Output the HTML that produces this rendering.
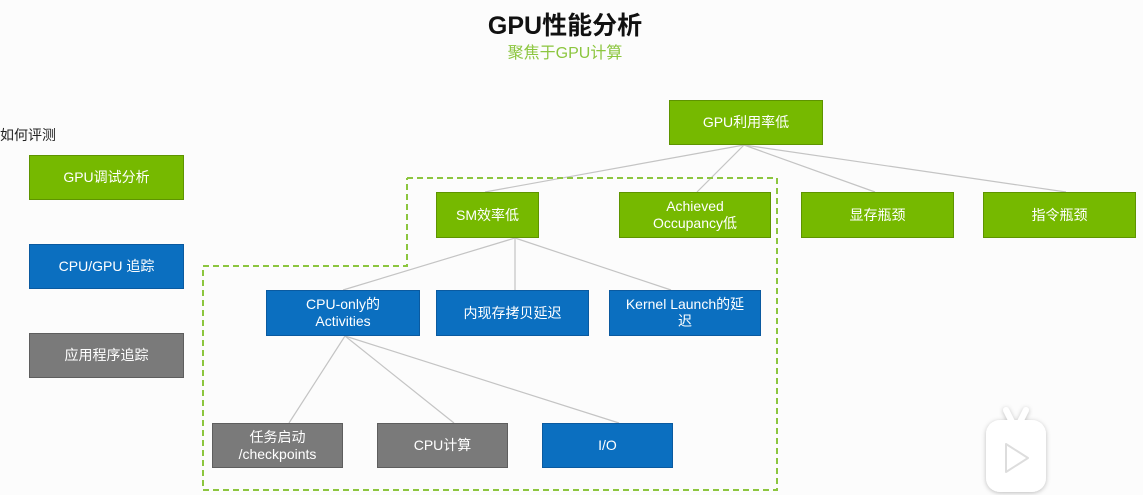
<!DOCTYPE html>
<html><head><meta charset="utf-8"><style>
body{margin:0;width:1143px;height:495px;background:#fcfcfc;position:relative;overflow:hidden;font-family:"Liberation Sans","Noto Sans CJK SC",sans-serif}
.b{position:absolute;color:#fff;font-size:14px;display:flex;align-items:center;justify-content:center;text-align:center;line-height:17px;box-sizing:border-box}
.g{background:#76b900;border:1px solid #5e9400}
.u{background:#0b6fc0;border:1px solid #0a5aa0}
.y{background:#7a7a7a;border:1px solid #5e5e5e}
svg{position:absolute;left:0;top:0}
</style></head><body>
<svg width="1143" height="495">
<defs><filter id="s" x="-30%" y="-30%" width="160%" height="160%"><feDropShadow dx="0" dy="1" stdDeviation="2.5" flood-color="#000" flood-opacity="0.25"/></filter></defs>
<g stroke="#c4c4c4" stroke-width="1.2" fill="none">
<line x1="744" y1="145" x2="485" y2="192"/><line x1="744" y1="145" x2="697" y2="192"/>
<line x1="744" y1="145" x2="875" y2="192"/><line x1="744" y1="145" x2="1066" y2="192"/>
<line x1="515" y1="238" x2="343" y2="290"/><line x1="515" y1="238" x2="515" y2="290"/><line x1="515" y1="238" x2="671" y2="290"/>
<line x1="345" y1="336" x2="289" y2="423"/><line x1="345" y1="336" x2="454" y2="423"/><line x1="345" y1="336" x2="619" y2="423"/>
</g>
<polyline points="407,178 777,178 777,490 203,490 203,266 407,266 407,178" fill="none" stroke="#8cc63f" stroke-width="2" stroke-dasharray="6,4"/>
<g transform="translate(1016,420)" filter="url(#s)">
<line x1="-10" y1="-10" x2="-4" y2="2" stroke="#fff" stroke-width="6" stroke-linecap="round"/>
<line x1="10" y1="-10" x2="4" y2="2" stroke="#fff" stroke-width="6" stroke-linecap="round"/>
<rect x="-30" y="0" width="60" height="72" rx="14" fill="#fff"/>
</g>
<path d="M1006 444 L1028 458 L1006 472 Z" fill="#fff" stroke="#ddd" stroke-width="2" stroke-linejoin="round"/>
</svg>
<div style="position:absolute;left:0;width:1130px;top:6px;text-align:center;font-size:25px;font-weight:bold;color:#111">GPU性能分析</div>
<div style="position:absolute;left:0;width:1130px;top:39px;text-align:center;font-size:16px;color:#8cc63f">聚焦于GPU计算</div>
<div style="position:absolute;left:0;top:125px;font-size:14px;color:#222">如何评测</div>
<div class="b g" style="left:29px;top:155px;width:155px;height:45px">GPU调试分析</div>
<div class="b u" style="left:29px;top:244px;width:155px;height:45px">CPU/GPU 追踪</div>
<div class="b y" style="left:29px;top:333px;width:155px;height:45px">应用程序追踪</div>
<div class="b g" style="left:669px;top:100px;width:154px;height:45px">GPU利用率低</div>
<div class="b g" style="left:436px;top:192px;width:103px;height:46px">SM效率低</div>
<div class="b g" style="left:619px;top:192px;width:152px;height:46px">Achieved<br>Occupancy低</div>
<div class="b g" style="left:801px;top:192px;width:153px;height:46px">显存瓶颈</div>
<div class="b g" style="left:983px;top:192px;width:153px;height:46px">指令瓶颈</div>
<div class="b u" style="left:266px;top:290px;width:154px;height:46px">CPU-only的<br>Activities</div>
<div class="b u" style="left:436px;top:290px;width:153px;height:46px">内现存拷贝延迟</div>
<div class="b u" style="left:609px;top:290px;width:152px;height:46px">Kernel Launch的延<br>迟</div>
<div class="b y" style="left:212px;top:423px;width:131px;height:45px">任务启动<br>/checkpoints</div>
<div class="b y" style="left:377px;top:423px;width:131px;height:45px">CPU计算</div>
<div class="b u" style="left:542px;top:423px;width:131px;height:45px">I/O</div>
</body></html>
